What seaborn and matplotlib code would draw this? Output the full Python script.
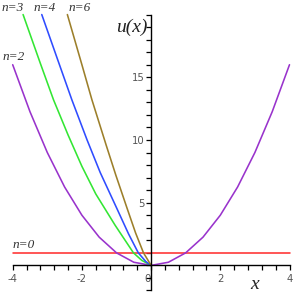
import matplotlib
matplotlib.use('Agg')
import matplotlib.pyplot as plt
import seaborn as sns
import pandas as pd
import numpy as np
from matplotlib.ticker import FixedLocator

# ---- data ----
n0_x = [-4.0, 4.0]
n0_y = [1.0, 1.0]

n2_x = [-4.0, -3.5, -3.0, -2.5, -2.0, -1.5, -1.0, -0.5, 0.0, 0.5, 1.0, 1.5, 2.0, 2.5, 3.0, 3.5, 4.0]
n2_y = [16.0, 12.25, 9.0, 6.25, 4.0, 2.25, 1.0, 0.25, 0.0, 0.25, 1.0, 2.25, 4.0, 6.25, 9.0, 12.25, 16.0]

n3_x = [-3.70, -3.20, -2.82, -2.40, -2.00, -1.60, -1.04, -0.51, -0.27, 0.0]
n3_y = [20.0, 16.1, 13.2, 10.4, 7.9, 5.7, 3.2, 1.0, 0.4, 0.0]

n4_x = [-3.16, -2.70, -2.29, -1.85, -1.47, -1.00, -0.65, -0.37, -0.15, 0.0]
n4_y = [20.0, 16.4, 13.2, 10.0, 7.4, 4.6, 2.5, 1.0, 0.3, 0.0]

n6_x = [-2.42, -2.00, -1.71, -1.30, -1.02, -0.70, -0.45, -0.22, 0.0]
n6_y = [20.0, 16.0, 13.2, 9.6, 7.2, 4.6, 2.6, 1.0, 0.0]

series_names = ['n=0', 'n=2', 'n=3', 'n=4', 'n=6']
x_major = [-4, -2, 0, 2, 4]
x_labels = ['-4', '-2', '0', '2', '4']
y_major = [5, 10, 15]
y_labels = ['5', '10', '15']

colors = {'n=0': '#ff3030', 'n=2': '#9933cc', 'n=3': '#33e633',
          'n=4': '#2f4cff', 'n=6': '#9c7f2a'}

frames = []
for name, xs, ys in zip(series_names,
                        [n0_x, n2_x, n3_x, n4_x, n6_x],
                        [n0_y, n2_y, n3_y, n4_y, n6_y]):
    frames.append(pd.DataFrame({'x': xs, 'u': ys, 'n': name}))
df = pd.concat(frames, ignore_index=True)

sns.set_style('ticks')
plt.rcParams['font.family'] = ['DejaVu Sans']
plt.rcParams['axes.unicode_minus'] = False

fig = plt.figure(figsize=(2.94, 3.0), dpi=100)
ax = fig.add_axes([0, 0, 1, 1])
ax.patch.set_alpha(0)

sns.lineplot(data=df, x='x', y='u', hue='n', palette=colors, sort=False,
             estimator=None, linewidth=1.15, legend=False, ax=ax)

ax.set_xlim(-4.367, 4.13)
ax.set_ylim(-2.76, 21.16)
ax.set_xlabel('')
ax.set_ylabel('')

for s in ['top', 'right']:
    ax.spines[s].set_visible(False)
ax.spines['left'].set_position(('data', 0))
ax.spines['bottom'].set_position(('data', 0))
ax.spines['left'].set_bounds(-2, 20)
ax.spines['bottom'].set_bounds(-4, 4)
for s in ['left', 'bottom']:
    ax.spines[s].set_linewidth(1.0)
    ax.spines[s].set_color('black')

ax.set_xticks(x_major)
ax.set_xticklabels(x_labels)
ax.xaxis.set_minor_locator(FixedLocator(np.arange(-4, 4.001, 0.4)))
ax.set_yticks(y_major)
ax.set_yticklabels(y_labels)
ax.yaxis.set_minor_locator(FixedLocator(np.arange(-2, 20.001, 1)))

ax.tick_params(which='both', direction='out', length=3.6, width=0.9, color='black',
               labelsize=7.3, labelcolor='#555555')
ax.tick_params(axis='x', which='both', pad=2.5)
ax.tick_params(axis='y', which='both', pad=1)

for lab in ax.get_xticklabels():
    if lab.get_text() == '0':
        lab.set_horizontalalignment('right')

serif = ['Liberation Serif', 'DejaVu Serif']
lab_kw = dict(family=serif, style='italic', fontsize=9.5, color='#333333',
              ha='left', va='baseline', clip_on=False)
label_pos = {'n=3': (-4.31, 20.3), 'n=4': (-3.41, 20.3), 'n=6': (-2.40, 20.3),
             'n=2': (-4.28, 16.4), 'n=0': (-4.0, 1.36)}
for name, (tx, ty) in label_pos.items():
    ax.text(tx, ty, name, **lab_kw)

ax.text(-0.12, 18.6, 'u(x)', family=serif, style='italic', fontsize=14,
        color='#222222', ha='right', va='baseline')
ax.text(3.0, -1.88, 'x', family=serif, style='italic', fontsize=14,
        color='#222222', ha='center', va='baseline')

fig.savefig('out.png', dpi=100)
